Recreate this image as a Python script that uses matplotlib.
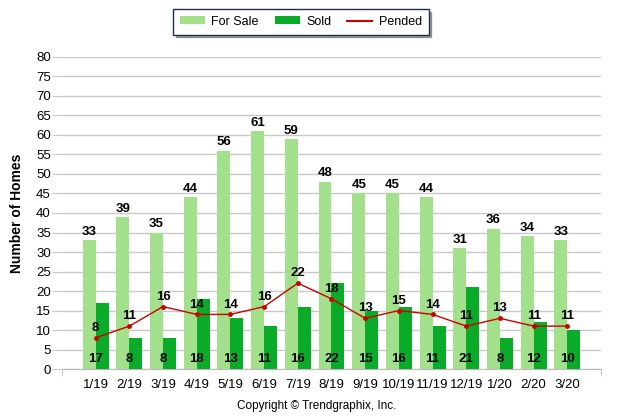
import numpy as np
import matplotlib
matplotlib.use("Agg")
import matplotlib.pyplot as plt
from matplotlib.lines import Line2D

months = ['1/19', '2/19', '3/19', '4/19', '5/19', '6/19', '7/19', '8/19',
          '9/19', '10/19', '11/19', '12/19', '1/20', '2/20', '3/20']
for_sale = [33, 39, 35, 44, 56, 61, 59, 48, 45, 45, 44, 31, 36, 34, 33]
sold = [17, 8, 8, 18, 13, 11, 16, 22, 15, 16, 11, 21, 8, 12, 10]
pended = [8, 11, 16, 14, 14, 16, 22, 18, 13, 15, 14, 11, 13, 11, 11]

plt.rcParams['font.family'] = ['Liberation Sans', 'DejaVu Sans']

fig = plt.figure(figsize=(6.23, 4.19), dpi=100)
ax = fig.add_axes([0.0995, 0.1193, 0.8652, 0.7447])

x = np.arange(len(months))
w = 0.385
b1 = ax.bar(x - w / 2, for_sale, w, color='#a3e08b', label='For Sale', zorder=2)
b2 = ax.bar(x + w / 2, sold, w, color='#0aab28', label='Sold', zorder=3)
ax.plot(x, pended, color='#cc0000', lw=1, marker='o', ms=2.5, zorder=4)

for i in x:
    ax.text(i - w / 2, for_sale[i] + 0.6, str(for_sale[i]), ha='center', va='bottom',
            fontsize=9.5, fontweight='bold', zorder=5)
    ax.text(i, 2.5, str(sold[i]), ha='center', va='center',
            fontsize=9.5, fontweight='bold', zorder=5)
    ax.text(i, pended[i] + 1.0, str(pended[i]), ha='center', va='bottom',
            fontsize=9.5, fontweight='bold', zorder=5)

ax.set_xlim(-1, 15)
ax.set_ylim(0, 80)
ax.set_yticks(range(0, 81, 5))
ax.set_xticks(x)
ax.set_xticklabels(months)
ax.set_xticks([-1, 15], minor=True)
ax.tick_params(axis='x', which='major', length=0, pad=7, labelsize=9.5)
ax.tick_params(axis='x', which='minor', length=5, color='#bbbbbb')
ax.tick_params(axis='y', length=7, color='#c8c8c8', labelsize=9.5, pad=1)
ax.grid(axis='y', color='#c8c8c8', lw=1, zorder=0)
ax.set_axisbelow(True)
for s in ['top', 'right', 'left']:
    ax.spines[s].set_visible(False)
ax.spines['bottom'].set_color('#bbbbbb')
ax.set_ylabel('Number of Homes', fontsize=10, fontweight='bold', labelpad=9)

pend_handle = Line2D([], [], color='#cc0000', lw=1.5, label='Pended')
leg = fig.legend(handles=[b1, b2, pend_handle], loc='center', bbox_to_anchor=(0.483, 0.948),
                 ncol=3, frameon=True, fancybox=False, shadow=True, fontsize=9,
                 handlelength=2.0, handleheight=0.6, columnspacing=1.3,
                 handletextpad=0.5, borderpad=0.55)
leg.get_frame().set_edgecolor('#1f2a4f')
leg.get_frame().set_linewidth(1)

fig.text(0.508, 0.03, 'Copyright \u00a9 Trendgraphix, Inc.', ha='center', va='center',
         fontsize=8.5)

fig.savefig('out.png', dpi=100)
